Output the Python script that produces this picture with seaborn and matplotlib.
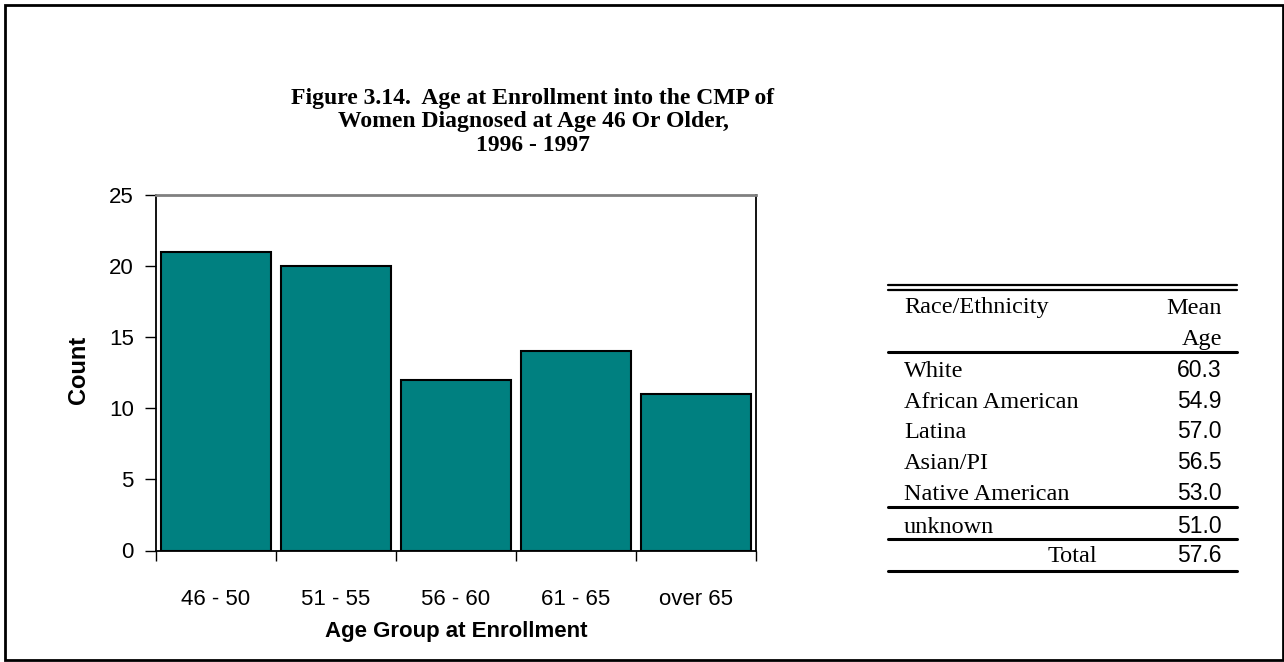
import matplotlib
matplotlib.use("Agg")
import matplotlib.pyplot as plt
from matplotlib.lines import Line2D
from matplotlib.patches import Rectangle
import seaborn as sns
import pandas as pd

# Chart data
age_groups = ["46 - 50", "51 - 55", "56 - 60", "61 - 65", "over 65"]
counts = [21, 20, 12, 14, 11]
y_ticks = [0, 5, 10, 15, 20, 25]

# Side table data
race_labels = ["White", "African American", "Latina", "Asian/PI", "Native American"]
race_means = ["60.3", "54.9", "57.0", "56.5", "53.0"]
unknown_label = "unknown"
unknown_mean = "51.0"
total_label = "Total"
total_mean = "57.6"

title_lines = "Figure 3.14.  Age at Enrollment into the CMP of\nWomen Diagnosed at Age 46 Or Older,\n1996 - 1997"

sns.set_theme(style="white")
plt.rcParams["font.family"] = ["Liberation Sans", "DejaVu Sans"]

W, H = 1284, 662
fig = plt.figure(figsize=(W / 100, H / 100), dpi=100)
fig.patch.set_facecolor("white")


def fx(px):
    return px / W


def fy(py):
    return 1 - py / H


# Plot area
ax_left, ax_right, ax_top, ax_bottom = 156, 756, 195, 550.5
ax = fig.add_axes([fx(ax_left), fy(ax_bottom), fx(ax_right - ax_left), (ax_bottom - ax_top) / H])

df = pd.DataFrame({"group": age_groups, "count": counts})
sns.barplot(data=df, x="group", y="count", color="#008080", saturation=1,
            edgecolor="black", linewidth=1.5, width=0.92, ax=ax)

ax.set_xlim(-0.5, len(age_groups) - 0.5)
ax.set_ylim(0, 25)
ax.set_yticks(y_ticks)
ax.set_xlabel("")
ax.set_ylabel("")

# Category boundaries carry the x tick marks
ax.set_xticks([i - 0.5 for i in range(len(age_groups) + 1)], minor=True)
ax.tick_params(axis="x", which="major", length=0, pad=28, labelsize=16, colors="black")
ax.tick_params(axis="x", which="minor", length=7, width=1, direction="out", color="black", bottom=True)
ax.tick_params(axis="y", which="major", length=8, width=1, direction="out", color="black",
               left=True, labelsize=16, pad=8, labelcolor="black")

for side in ["left", "bottom", "right"]:
    ax.spines[side].set_visible(True)
    ax.spines[side].set_color("black")
    ax.spines[side].set_linewidth(1.3)
ax.spines["top"].set_visible(True)
ax.spines["top"].set_color("#808080")
ax.spines["top"].set_linewidth(2)
ax.grid(False)

fig.text(fx(78), fy(370), "Count", rotation=90, ha="center", va="center",
         fontsize=17, fontweight="bold", color="black")
fig.text(fx(456), fy(632), "Age Group at Enrollment", ha="center", va="center",
         fontsize=16, fontweight="bold", color="black")

# Title
fig.text(fx(533), fy(88), title_lines, ha="center", va="top", fontsize=17,
         fontweight="bold", family=["Liberation Serif", "DejaVu Serif"],
         linespacing=1.15, color="black")

# Side table
t_left, t_right = 888, 1237
txt_x = 904
num_x = 1222
serif = ["Liberation Serif", "DejaVu Serif"]
tsize = 17.5
nsize = 16.5


def hline(py, lw):
    fig.add_artist(Line2D([fx(t_left), fx(t_right)], [fy(py), fy(py)], color="black",
                          linewidth=lw, transform=fig.transFigure))


hline(285, 1.6)
hline(289.5, 1.6)
hline(351.7, 2.2)
hline(507.3, 2.2)
hline(539, 2.2)
hline(570.5, 2.2)

fig.text(fx(txt_x), fy(313.5), "Race/Ethnicity", ha="left", va="baseline",
         fontsize=tsize, family=serif, color="black")
fig.text(fx(num_x), fy(313.5), "Mean", ha="right", va="baseline",
         fontsize=tsize, family=serif, color="black")
fig.text(fx(num_x), fy(345), "Age", ha="right", va="baseline",
         fontsize=tsize, family=serif, color="black")

row_base0 = 376.7
row_step = 30.8
for i, (lab, val) in enumerate(zip(race_labels, race_means)):
    by = row_base0 + i * row_step
    fig.text(fx(txt_x), fy(by), lab, ha="left", va="baseline", fontsize=tsize,
             family=serif, color="black")
    fig.text(fx(num_x), fy(by), val, ha="right", va="baseline", fontsize=nsize, color="black")

fig.text(fx(txt_x), fy(533.3), unknown_label, ha="left", va="baseline", fontsize=tsize,
         family=serif, color="black")
fig.text(fx(num_x), fy(533.3), unknown_mean, ha="right", va="baseline", fontsize=nsize, color="black")
fig.text(fx(1097), fy(562.5), total_label, ha="right", va="baseline", fontsize=tsize,
         family=serif, color="black")
fig.text(fx(num_x), fy(562.5), total_mean, ha="right", va="baseline", fontsize=nsize, color="black")

# Outer frame
fig.add_artist(Rectangle((fx(5.5), fy(660)), fx(1282.5 - 5.5), (660 - 5) / H,
                         fill=False, edgecolor="black", linewidth=2,
                         transform=fig.transFigure))

fig.savefig("out.png", dpi=100, facecolor="white")
